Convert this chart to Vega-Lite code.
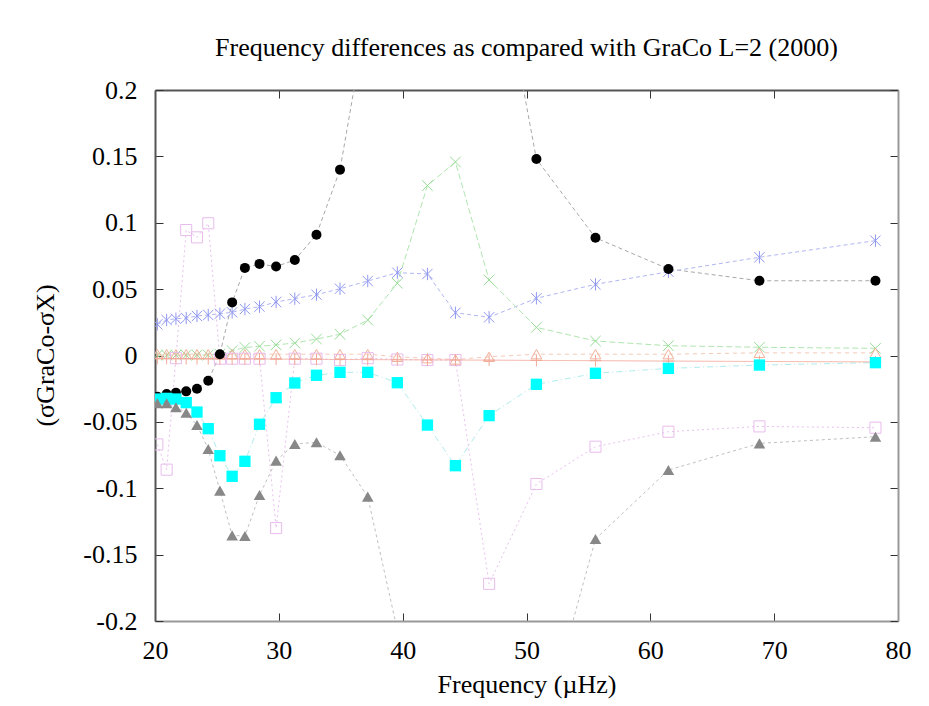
{
"$schema":"https://vega.github.io/schema/vega-lite/v6.json",
"width":743,"height":531,
"autosize":{"type":"none"},
"padding":{"left":155,"top":90,"right":31,"bottom":85},
"background":"#ffffff",
"config":{"view":{"stroke":null}},
"title":{"text":"Frequency differences as compared with GraCo L=2 (2000)","font":"Liberation Serif","fontSize":26,"fontWeight":"normal","color":"#000","anchor":"middle","offset":16},
"data":{"values":[
{"s":"A","f":20.19,"v":-0.031},{"s":"A","f":20.94,"v":-0.029},{"s":"A","f":21.69,"v":-0.028},{"s":"A","f":22.52,"v":-0.027},{"s":"A","f":23.39,"v":-0.025},{"s":"A","f":24.30,"v":-0.019},{"s":"A","f":25.24,"v":0.001},{"s":"A","f":26.23,"v":0.040},{"s":"A","f":27.26,"v":0.066},{"s":"A","f":28.44,"v":0.069},{"s":"A","f":29.78,"v":0.067},{"s":"A","f":31.29,"v":0.072},{"s":"A","f":33.04,"v":0.091},{"s":"A","f":34.94,"v":0.140},{"s":"A","f":37.18,"v":0.26},{"s":"A","f":39.57,"v":0.45},{"s":"A","f":42.0,"v":0.6},{"s":"A","f":44.26,"v":0.55},{"s":"A","f":46.98,"v":0.34},{"s":"A","f":50.8,"v":0.148},{"s":"A","f":55.57,"v":0.0887},{"s":"A","f":61.46,"v":0.0652},{"s":"A","f":68.81,"v":0.0563},{"s":"A","f":78.18,"v":0.0563},
{"s":"B","f":20.19,"v":0.0235},{"s":"B","f":20.94,"v":0.0267},{"s":"B","f":21.69,"v":0.0277},{"s":"B","f":22.52,"v":0.0282},{"s":"B","f":23.39,"v":0.0298},{"s":"B","f":24.30,"v":0.0305},{"s":"B","f":25.24,"v":0.0315},{"s":"B","f":26.23,"v":0.0325},{"s":"B","f":27.26,"v":0.035},{"s":"B","f":28.44,"v":0.0368},{"s":"B","f":29.78,"v":0.0403},{"s":"B","f":31.29,"v":0.0428},{"s":"B","f":33.04,"v":0.0458},{"s":"B","f":34.94,"v":0.0503},{"s":"B","f":37.18,"v":0.0561},{"s":"B","f":39.57,"v":0.0624},{"s":"B","f":42.0,"v":0.0614},{"s":"B","f":44.26,"v":0.0322},{"s":"B","f":46.98,"v":0.0288},{"s":"B","f":50.8,"v":0.0431},{"s":"B","f":55.57,"v":0.0536},{"s":"B","f":61.46,"v":0.0631},{"s":"B","f":68.81,"v":0.074},{"s":"B","f":78.18,"v":0.0865},
{"s":"C","f":20.19,"v":0.0003},{"s":"C","f":20.94,"v":0.0003},{"s":"C","f":21.69,"v":0.0003},{"s":"C","f":22.52,"v":0.0003},{"s":"C","f":23.39,"v":0.0003},{"s":"C","f":24.30,"v":0.0004},{"s":"C","f":25.24,"v":0.001},{"s":"C","f":26.23,"v":0.0036},{"s":"C","f":27.26,"v":0.006},{"s":"C","f":28.44,"v":0.007},{"s":"C","f":29.78,"v":0.008},{"s":"C","f":31.29,"v":0.0094},{"s":"C","f":33.04,"v":0.0124},{"s":"C","f":34.94,"v":0.016},{"s":"C","f":37.18,"v":0.0267},{"s":"C","f":39.57,"v":0.0544},{"s":"C","f":42.0,"v":0.128},{"s":"C","f":44.26,"v":0.1458},{"s":"C","f":46.98,"v":0.0569},{"s":"C","f":50.8,"v":0.0212},{"s":"C","f":55.57,"v":0.0109},{"s":"C","f":61.46,"v":0.0074},{"s":"C","f":68.81,"v":0.0062},{"s":"C","f":78.18,"v":0.0054},
{"s":"D","f":20.19,"v":0.001},{"s":"D","f":20.94,"v":0.001},{"s":"D","f":21.69,"v":0.001},{"s":"D","f":22.52,"v":0.001},{"s":"D","f":23.39,"v":0.001},{"s":"D","f":24.30,"v":0.001},{"s":"D","f":25.24,"v":0.001},{"s":"D","f":26.23,"v":0.001},{"s":"D","f":27.26,"v":0.001},{"s":"D","f":28.44,"v":0.001},{"s":"D","f":29.78,"v":0.001},{"s":"D","f":31.29,"v":0.001},{"s":"D","f":33.04,"v":0.001},{"s":"D","f":34.94,"v":0.001},{"s":"D","f":37.18,"v":0.001},{"s":"D","f":39.57,"v":-0.001},{"s":"D","f":42.0,"v":-0.002},{"s":"D","f":44.26,"v":-0.003},{"s":"D","f":46.98,"v":-0.001},{"s":"D","f":50.8,"v":0.001},{"s":"D","f":55.57,"v":0.001},{"s":"D","f":61.46,"v":0.001},{"s":"D","f":68.81,"v":0.002},{"s":"D","f":78.18,"v":0.002},
{"s":"E","f":20.19,"v":-0.067},{"s":"E","f":20.94,"v":-0.086},{"s":"E","f":21.69,"v":-0.002},{"s":"E","f":22.52,"v":0.0945},{"s":"E","f":23.39,"v":0.089},{"s":"E","f":24.30,"v":0.0996},{"s":"E","f":25.24,"v":-0.0024},{"s":"E","f":26.23,"v":-0.0024},{"s":"E","f":27.26,"v":-0.0024},{"s":"E","f":28.44,"v":-0.0024},{"s":"E","f":29.78,"v":-0.130},{"s":"E","f":31.29,"v":-0.0024},{"s":"E","f":33.04,"v":-0.0024},{"s":"E","f":34.94,"v":-0.0034},{"s":"E","f":37.18,"v":-0.002},{"s":"E","f":39.57,"v":-0.003},{"s":"E","f":42.0,"v":-0.0034},{"s":"E","f":44.26,"v":-0.0034},{"s":"E","f":46.98,"v":-0.172},{"s":"E","f":50.8,"v":-0.0968},{"s":"E","f":55.57,"v":-0.0687},{"s":"E","f":61.46,"v":-0.0574},{"s":"E","f":68.81,"v":-0.0534},{"s":"E","f":78.18,"v":-0.0544},
{"s":"F","f":20.19,"v":-0.0328},{"s":"F","f":20.94,"v":-0.0323},{"s":"F","f":21.69,"v":-0.0328},{"s":"F","f":22.52,"v":-0.0355},{"s":"F","f":23.39,"v":-0.0426},{"s":"F","f":24.30,"v":-0.0551},{"s":"F","f":25.24,"v":-0.0755},{"s":"F","f":26.23,"v":-0.091},{"s":"F","f":27.26,"v":-0.0797},{"s":"F","f":28.44,"v":-0.0518},{"s":"F","f":29.78,"v":-0.0318},{"s":"F","f":31.29,"v":-0.0207},{"s":"F","f":33.04,"v":-0.0149},{"s":"F","f":34.94,"v":-0.0127},{"s":"F","f":37.18,"v":-0.0127},{"s":"F","f":39.57,"v":-0.0205},{"s":"F","f":42.0,"v":-0.0524},{"s":"F","f":44.26,"v":-0.083},{"s":"F","f":46.98,"v":-0.0453},{"s":"F","f":50.8,"v":-0.0217},{"s":"F","f":55.57,"v":-0.0134},{"s":"F","f":61.46,"v":-0.0097},{"s":"F","f":68.81,"v":-0.0072},{"s":"F","f":78.18,"v":-0.0054},
{"s":"G","f":20.19,"v":-0.036},{"s":"G","f":20.94,"v":-0.036},{"s":"G","f":21.69,"v":-0.039},{"s":"G","f":22.52,"v":-0.0431},{"s":"G","f":23.39,"v":-0.0524},{"s":"G","f":24.30,"v":-0.0704},{"s":"G","f":25.24,"v":-0.1018},{"s":"G","f":26.23,"v":-0.1355},{"s":"G","f":27.26,"v":-0.136},{"s":"G","f":28.44,"v":-0.1051},{"s":"G","f":29.78,"v":-0.0792},{"s":"G","f":31.29,"v":-0.0667},{"s":"G","f":33.04,"v":-0.0654},{"s":"G","f":34.94,"v":-0.0752},{"s":"G","f":37.18,"v":-0.1063},{"s":"G","f":39.57,"v":-0.207},{"s":"G","f":42.0,"v":-0.35},{"s":"G","f":44.26,"v":-0.45},{"s":"G","f":46.98,"v":-0.4},{"s":"G","f":50.8,"v":-0.30},{"s":"G","f":55.57,"v":-0.1382},{"s":"G","f":61.46,"v":-0.0863},{"s":"G","f":68.81,"v":-0.0662},{"s":"G","f":78.18,"v":-0.0612},
{"s":"H","f":20.19,"v":-0.0022},{"s":"H","f":20.94,"v":-0.0022},{"s":"H","f":21.69,"v":-0.0023},{"s":"H","f":22.52,"v":-0.0023},{"s":"H","f":23.39,"v":-0.0024},{"s":"H","f":24.30,"v":-0.0024},{"s":"H","f":25.24,"v":-0.0025},{"s":"H","f":26.23,"v":-0.0025},{"s":"H","f":27.26,"v":-0.0026},{"s":"H","f":28.44,"v":-0.0026},{"s":"H","f":29.78,"v":-0.0027},{"s":"H","f":31.29,"v":-0.0028},{"s":"H","f":33.04,"v":-0.0029},{"s":"H","f":34.94,"v":-0.003},{"s":"H","f":37.18,"v":-0.0031},{"s":"H","f":39.57,"v":-0.0032},{"s":"H","f":42.0,"v":-0.0033},{"s":"H","f":44.26,"v":-0.0034},{"s":"H","f":46.98,"v":-0.0035},{"s":"H","f":50.8,"v":-0.0037},{"s":"H","f":55.57,"v":-0.0039},{"s":"H","f":61.46,"v":-0.0042},{"s":"H","f":68.81,"v":-0.0045},{"s":"H","f":78.18,"v":-0.0048}
]},
"layer":[
{"mark":{"type":"line","clip":true,"strokeWidth":1},
 "encoding":{
  "x":{"field":"f","type":"quantitative","scale":{"domain":[20,80],"nice":false,"zero":false},
   "axis":{"orient":"bottom","values":[20,30,40,50,60,70,80],"grid":false,"tickSize":-8,"tickColor":"#333","tickWidth":1,"domainColor":"#999","domainWidth":2,"labelFont":"Liberation Serif","labelFontSize":26,"labelColor":"#000","labelPadding":24,"labelFlush":false,"title":"Frequency (µHz)","titleFont":"Liberation Serif","titleFontSize":26,"titleFontWeight":"normal","titleColor":"#000","titlePadding":8}},
  "y":{"field":"v","type":"quantitative","scale":{"domain":[-0.2,0.2],"nice":false,"zero":false},
   "axis":{"orient":"left","values":[-0.2,-0.15,-0.1,-0.05,0,0.05,0.1,0.15,0.2],"labelExpr":"'' + datum.value","grid":false,"tickSize":-8,"tickColor":"#333","tickWidth":1,"domainColor":"#555","domainWidth":2,"labelFont":"Liberation Serif","labelFontSize":26,"labelColor":"#000","labelPadding":26,"labelFlush":false,"title":"(σGraCo-σX)","titleFont":"Liberation Serif","titleFontSize":26,"titleFontWeight":"normal","titleColor":"#000","titleX":-110,"titleY":265,"titleAlign":"center","titleBaseline":"middle","titleAngle":-90}},
  "stroke":{"field":"s","type":"nominal","legend":null,"scale":{"domain":["A","B","C","D","E","F","G","H"],"range":["#a8a8a8","#b0b6f2","#b0e6b0","#f6c8b8","#e8c0ee","#b0ecec","#c0c0c0","#f4aca0"]}},
  "strokeDash":{"field":"s","type":"nominal","legend":null,"scale":{"domain":["A","B","C","D","E","F","G","H"],"range":[[4,3],[4,3],[6,3],[4,4],[2,3],[6,3,1,3],[3,3],[1,0]]}}
 }},
{"transform":[{"filter":{"field":"s","oneOf":["B","C","D","E","H"]}}],
 "mark":{"type":"point","filled":false,"clip":true,"opacity":1,"strokeWidth":1},
 "encoding":{
  "x":{"field":"f","type":"quantitative","axis":{"orient":"top","values":[20,30,40,50,60,70,80],"labels":false,"grid":false,"title":null,"tickSize":-8,"tickColor":"#333","domainColor":"#555","domainWidth":2}},
  "y":{"field":"v","type":"quantitative","axis":{"orient":"right","values":[-0.2,-0.15,-0.1,-0.05,0,0.05,0.1,0.15,0.2],"labels":false,"grid":false,"title":null,"tickSize":-8,"tickColor":"#333","domainColor":"#999","domainWidth":2}},
  "color":{"field":"s","type":"nominal","legend":null,"scale":{"domain":["A","B","C","D","E","F","G","H"],"range":["#000000","#9098f0","#98dc98","#f2b098","#e8bcec","#00ffff","#888888","#f2a898"]}},
  "shape":{"field":"s","type":"nominal","legend":null,"scale":{"domain":["A","B","C","D","E","F","G","H"],"range":["circle","M-1,-1L1,1M-1,1L1,-1M0,-1.2L0,1.2","M-1,-1L1,1M-1,1L1,-1","triangle-up","square","square","triangle-up","M-1,0L1,0M0,-1L0,1"]}},
  "size":{"field":"s","type":"ordinal","legend":null,"scale":{"domain":["A","B","C","D","E","F","G","H"],"range":[100,140,140,120,120,110,90,120]}}
 }},
{"transform":[{"filter":{"field":"s","oneOf":["A","F","G"]}}],
 "mark":{"type":"point","filled":true,"clip":true,"opacity":1},
 "encoding":{
  "x":{"field":"f","type":"quantitative","axis":null},
  "y":{"field":"v","type":"quantitative","axis":null},
  "color":{"field":"s","type":"nominal","legend":null,"scale":{"domain":["A","B","C","D","E","F","G","H"],"range":["#000000","#9098f0","#98dc98","#f2b098","#e8bcec","#00ffff","#888888","#f2a898"]}},
  "shape":{"field":"s","type":"nominal","legend":null,"scale":{"domain":["A","B","C","D","E","F","G","H"],"range":["circle","M-1,-1L1,1M-1,1L1,-1M0,-1.2L0,1.2","M-1,-1L1,1M-1,1L1,-1","triangle-up","square","square","triangle-up","M-1,0L1,0M0,-1L0,1"]}},
  "size":{"field":"s","type":"ordinal","legend":null,"scale":{"domain":["A","B","C","D","E","F","G","H"],"range":[100,140,140,120,120,110,90,120]}}
 }}
],
"resolve":{"axis":{"x":"independent","y":"independent"}}
}
